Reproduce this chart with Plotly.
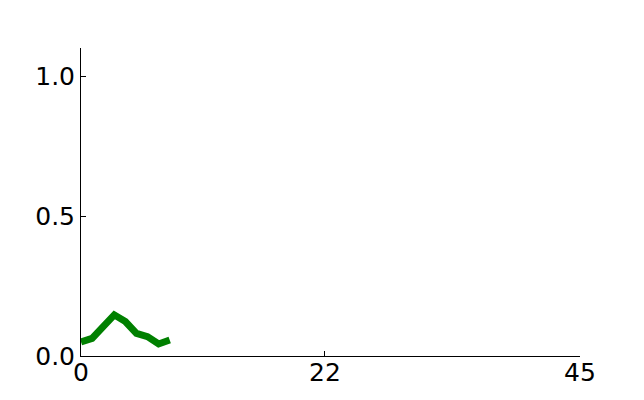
import plotly.graph_objects as go

steps = [0, 1, 2, 3, 4, 5, 6, 7, 8]
values = [0.05, 0.063, 0.105, 0.147, 0.123, 0.081, 0.069, 0.043, 0.057]

x_ticks = [0, 22, 45]
y_ticks = [0.0, 0.5, 1.0]

fig = go.Figure()
fig.add_trace(go.Scatter(x=steps, y=values, mode="lines",
                         line=dict(color="#008000", width=7)))

# page body adds ~8px offset, margins compensate for it
fig.update_layout(
    width=644, height=400,
    margin=dict(l=73, r=72, t=40, b=52),
    plot_bgcolor="white", paper_bgcolor="white",
    showlegend=False,
    font=dict(family="DejaVu Sans", size=25, color="black"),
)
fig.update_xaxes(range=[0, 45], tickvals=x_ticks, ticktext=[str(t) for t in x_ticks],
                 showline=True, linecolor="black", linewidth=1, showgrid=False,
                 zeroline=False, ticks="inside", ticklen=5, tickcolor="black",
                 ticklabelstandoff=-6)
fig.update_yaxes(range=[0, 1.1], tickvals=y_ticks, ticktext=["%.1f" % t for t in y_ticks],
                 showline=True, linecolor="black", linewidth=1, showgrid=False,
                 zeroline=False, ticks="inside", ticklen=5, tickcolor="black")

fig.write_html("out.html")
